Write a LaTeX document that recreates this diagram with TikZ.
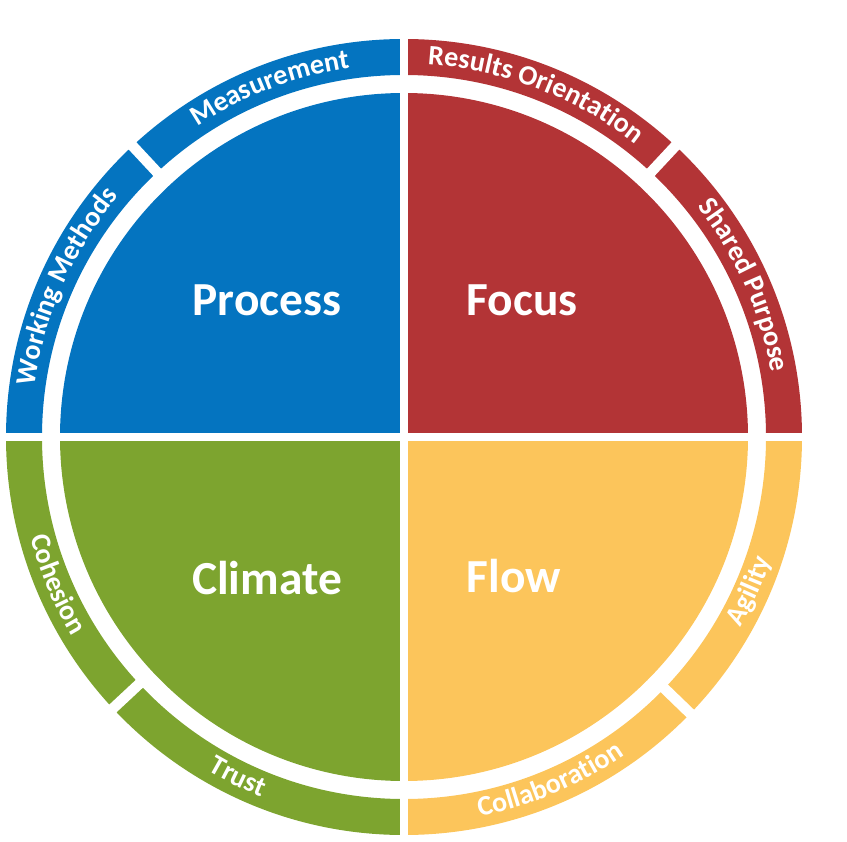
\documentclass[tikz,border=0pt]{standalone}
\usepackage{fontspec}
\setmainfont{Carlito}
\usetikzlibrary{decorations.text}
\definecolor{myBlue}{HTML}{0474C0}
\definecolor{myRed}{HTML}{B33436}
\definecolor{myGreen}{HTML}{7DA42F}
\definecolor{myYellow}{HTML}{FCC55B}
\newcommand{\bandfont}{\fontsize{16}{16}\selectfont\bfseries}

\begin{document}
\begin{tikzpicture}[x=0.02cm, y=0.02cm]
  \tikzstyle{Q}=[text=white, font=\fontsize{27}{27}\selectfont\bfseries]
  \useasboundingbox (-404,-404) rectangle (443,437);

  % quadrants and outer band segments
  \foreach \a/\b/\c in {90/180/myBlue, 0/90/myRed, 180/270/myGreen, 270/360/myYellow}{
    \fill[\c] (0,0) -- (\a:344) arc[start angle=\a, end angle=\b, radius=344] -- cycle;
    \fill[\c] (\a:362) arc[start angle=\a, end angle=\b, radius=362]
      -- (\b:398) arc[start angle=\b, end angle=\a, radius=398] -- cycle;
  }

  % white separators
  \draw[white, line width=5] (-420,0) -- (420,0);
  \draw[white, line width=5] (0,-420) -- (0,420);
  \foreach \s in {133, 47, 223, 316}
    \draw[white, line width=6] (\s:355) -- (\s:405);

  % band labels, upper half
  \foreach \m/\t in {111/Measurement, 156/Working Methods, 69/Results Orientation, 24/Shared Purpose}
    \path[decorate, decoration={text along path, text align=center,
      text={|\color{white}\bandfont|\t}}]
      (\m+40:373) arc[start angle=\m+40, end angle=\m-40, radius=373];

  % band labels, lower half
  \foreach \m/\t in {203/Cohesion, 244/Trust, 293/Collaboration, 336/Agility}
    \path[decorate, decoration={text along path, text align=center,
      text={|\color{white}\bandfont|\t}}]
      (\m-40:387) arc[start angle=\m-40, end angle=\m+40, radius=387];

  \node[Q] (process) at (-137,137) {Process};
  \node[Q] (focus) at (118,137) {Focus};
  \node[Q] (climate) at (-137,-141) {Climate};
  \node[Q] (flow) at (110,-139) {Flow};
\end{tikzpicture}
\end{document}
